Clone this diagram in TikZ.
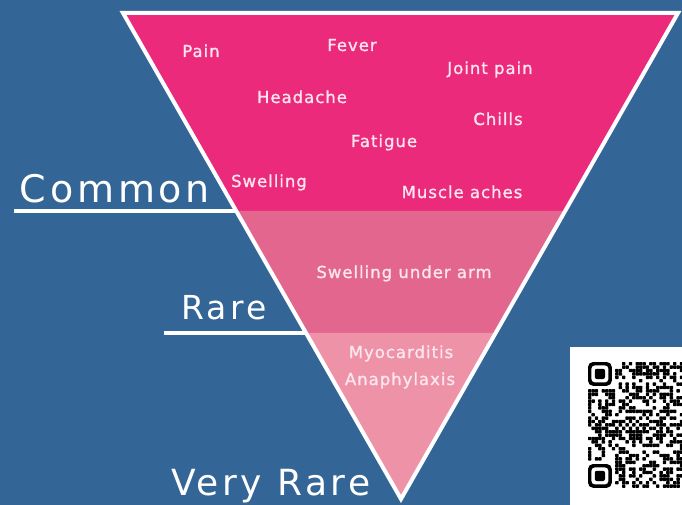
\documentclass[tikz,border=0pt]{standalone}
\usepackage{fontspec}
\setmainfont{DejaVu Sans}[LetterSpace=6]
\newfontfamily\symfont{DejaVu Sans}[LetterSpace=6, FakeBold=1.2]
\newfontfamily\bandfont{DejaVu Sans}[LetterSpace=10]
\usetikzlibrary{calc}
\definecolor{bgBlue}{RGB}{52,101,151}
\definecolor{commonPink}{RGB}{236,42,124}
\definecolor{rarePink}{RGB}{226,102,142}
\definecolor{veryrarePink}{RGB}{238,146,168}
\definecolor{symText}{RGB}{252,230,238}

\begin{document}
\begin{tikzpicture}[x=1pt, y=-1pt,
    sym/.style={text=symText, anchor=base, inner sep=0pt, font=\symfont\fontsize{16.5}{19}\selectfont},
    band/.style={text=white, anchor=base, inner sep=0pt, font=\bandfont\fontsize{#1}{#1}\selectfont},
    bandline/.style={white, line width=3.5pt},
    module/.style={fill=black, rounded corners=0.6pt}
  ]
  \useasboundingbox (0,0) rectangle (682,505);
  \clip (0,0) rectangle (682,505);
  \fill[bgBlue] (0,0) rectangle (682,505);

  % Inverted triangle, three bands
  \coordinate (tl) at (123,13);
  \coordinate (tr) at (678,13);
  \coordinate (apex) at (401,499);
  \fill[commonPink] (tl) -- (tr) -- ($(tr)!0.4074!(apex)$) coordinate (r1)
    -- ($(tl)!0.4074!(apex)$) coordinate (l1) -- cycle;
  \fill[rarePink] (l1) -- (r1) -- ($(tr)!0.6584!(apex)$) coordinate (r2)
    -- ($(tl)!0.6584!(apex)$) coordinate (l2) -- cycle;
  \fill[veryrarePink] (l2) -- (r2) -- (apex) -- cycle;
  \draw[white, line width=4pt, line join=miter] (tl) -- (tr) -- (apex) -- cycle;

  % Side labels
  \draw[bandline] (l1) -- ++(-222,0);
  \draw[bandline] (l2) -- ++(-142,0);
  \node[band=38] (common) at (115,202) {Common};
  \node[band=33] (rare) at (224,319) {Rare};
  \node[band=36] (veryrare) at (271,495) {Very Rare};

  % Common
  \node[sym] (pain) at (201,57) {Pain};
  \node[sym] (fever) at (352,51) {Fever};
  \node[sym] (joint) at (490,74) {Joint pain};
  \node[sym] (headache) at (302,103) {Headache};
  \node[sym] (chills) at (498,125) {Chills};
  \node[sym] (fatigue) at (384,147) {Fatigue};
  \node[sym] (swelling) at (269,187) {Swelling};
  \node[sym] (muscle) at (462,198) {Muscle aches};
  % Rare
  \node[sym] (armpit) at (404,278) {Swelling under arm};
  % Very rare
  \node[sym] (myo) at (401,358) {Myocarditis};
  \node[sym] (ana) at (400,385) {Anaphylaxis};

  % QR code
  \fill[white] (570,347) rectangle (682,505);
  \pgfmathsetseed{4242}
  \foreach \i in {0,...,27}{
    \foreach \j in {0,...,36}{
      \pgfmathtruncatemacro\on{rnd<0.48 ? 1 : 0}
      \pgfmathtruncatemacro\infinder{(\i<8 && (\j<8 || \j>28)) ? 1 : 0}
      \ifnum\infinder=0 \ifnum\on=1
        \fill[module] (588+\i*3.4,362+\j*3.4) rectangle ++(3.4,3.4);
      \fi\fi
    }
  }
  \foreach \fy in {362,464}{
    \fill[black, rounded corners=5pt] (588,\fy) rectangle ++(23.8,23.8);
    \fill[white, rounded corners=3.5pt] (591.4,\fy+3.4) rectangle ++(17,17);
    \fill[black, rounded corners=2pt] (594.8,\fy+6.8) rectangle ++(10.2,10.2);
  }
\end{tikzpicture}
\end{document}
